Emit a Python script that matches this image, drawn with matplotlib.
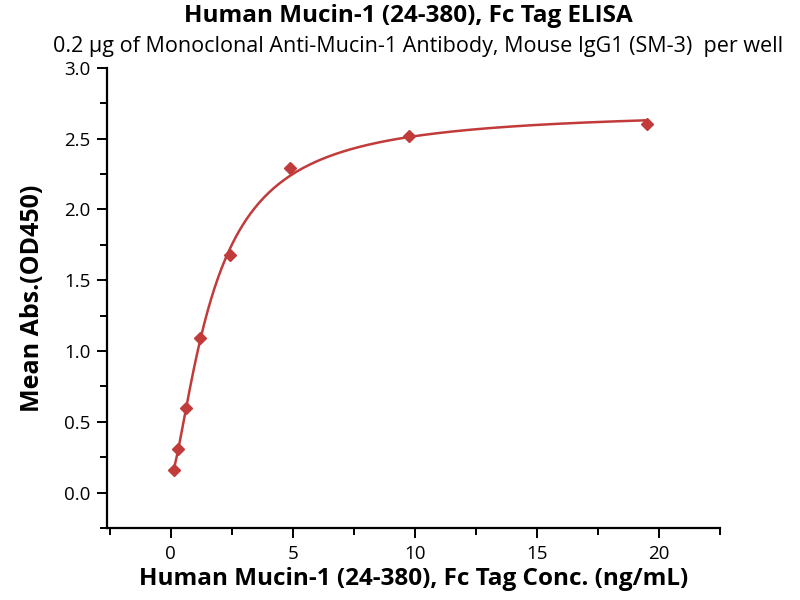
import matplotlib.pyplot as plt
import numpy as np

plt.rcParams['font.family'] = ['Open Sans', 'DejaVu Sans']

# Data
conc = [0.153, 0.305, 0.61, 1.22, 2.44, 4.88, 9.77, 19.5]
od450 = [0.16, 0.31, 0.60, 1.09, 1.68, 2.29, 2.52, 2.60]

title = "Human Mucin-1 (24-380), Fc Tag ELISA"
subtitle = "0.2 \u03bcg of Monoclonal Anti-Mucin-1 Antibody, Mouse IgG1 (SM-3)  per well"
xlabel = "Human Mucin-1 (24-380), Fc Tag Conc. (ng/mL)"
ylabel = "Mean Abs.(OD450)"

red = '#C23B3B'

# 4-parameter logistic fit: grid over ec50/hill, linear solve for bottom/top
x = np.array(conc)
y = np.array(od450)
best = None
for ec50 in np.linspace(0.5, 5, 181):
    for hill in np.linspace(0.5, 3, 126):
        f = 1.0 / (1.0 + (ec50 / x) ** hill)
        A = np.column_stack([1 - f, f])
        coef, *_ = np.linalg.lstsq(A, y, rcond=None)
        err = np.sum((A @ coef - y) ** 2)
        if best is None or err < best[0]:
            best = (err, ec50, hill, coef)
_, ec50, hill, (bottom, top) = best
xs = np.linspace(x.min(), x.max(), 400)
fs = 1.0 / (1.0 + (ec50 / xs) ** hill)
ys = bottom + (top - bottom) * fs

fig = plt.figure(figsize=(8, 6), dpi=100)
ax = fig.add_axes([0.134, 0.12, 0.766, 0.767])

ax.plot(xs, ys, color=red, lw=1.8)
ax.plot(conc, od450, linestyle='none', marker='D', markersize=6.5, color=red)

ax.set_xlim(-2.6, 22.5)
ax.set_ylim(-0.25, 3.0)
ax.set_xticks([0, 5, 10, 15, 20])
ax.set_xticks(np.arange(-2.5, 22.6, 2.5), minor=True)
ax.set_yticks([0.0, 0.5, 1.0, 1.5, 2.0, 2.5, 3.0])
ax.set_yticks(np.arange(-0.25, 3.0, 0.25), minor=True)
ax.set_yticklabels(['0.0', '0.5', '1.0', '1.5', '2.0', '2.5', '3.0'])

for s in ['top', 'right']:
    ax.spines[s].set_visible(False)
for s in ['left', 'bottom']:
    ax.spines[s].set_linewidth(1.6)

ax.tick_params(which='major', direction='out', length=7, width=1.4, labelsize=13.5, pad=5)
ax.tick_params(which='minor', direction='out', length=5, width=1.4)

ax.set_xlabel(xlabel, fontsize=17.5, fontweight='bold', labelpad=3)
ax.set_ylabel(ylabel, fontsize=18, fontweight='bold', labelpad=14)

fig.text(0.511, 0.973, title, ha='center', va='center', fontsize=17.5, fontweight='bold')
fig.text(0.523, 0.922, subtitle, ha='center', va='center', fontsize=15.5)

fig.savefig('out.png', dpi=100)
